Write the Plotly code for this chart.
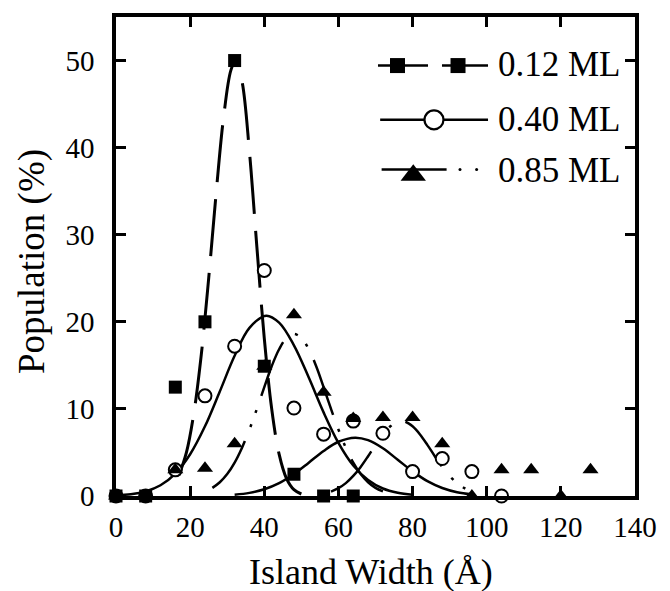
import plotly.graph_objects as go

# ---------------- data ----------------
x_ticks = [0, 20, 40, 60, 80, 100, 120, 140]
y_ticks = [0, 10, 20, 30, 40, 50]

# 0.12 ML (filled squares)
sq_x = [0, 8, 16, 24, 32, 40, 48, 56, 64]
sq_y = [0, 0, 12.5, 20.0, 50.0, 14.9, 2.5, 0, 0]

# 0.40 ML (open circles)
circ_x = [0, 8, 16, 24, 32, 40, 48, 56, 64, 72, 80, 88, 96, 104]
circ_y = [0, 0, 3.0, 11.5, 17.2, 25.9, 10.1, 7.1, 8.6, 7.2, 2.8, 4.3, 2.8, 0]

# 0.85 ML (filled triangles)
tri_x = [0, 8, 16, 24, 32, 40, 48, 56, 64, 72, 80, 88, 96, 104, 112, 120, 128]
tri_y = [0, 0, 3.0, 3.2, 6.0, 14.9, 20.8, 11.9, 8.9, 9.0, 9.0, 6.0, 0, 3.0, 3.0, 0, 3.0]

# fitted curves
fit012_x = [17, 19, 21, 23, 25, 27, 29, 31, 32.3, 34, 36, 38, 40, 42, 44, 46, 48, 50]
fit012_y = [2.4, 5.0, 9.5, 16.2, 25.0, 34.7, 43.4, 48.9, 50.0, 47.6, 39.5, 28.6, 18.1, 10.0, 4.8, 2.0, 0.73, 0.23]

fit040a_x = [0, 4, 8, 12, 16, 20, 24, 28, 32, 36, 40.5, 44, 48, 52, 56, 60, 64, 68, 72, 76, 80]
fit040a_y = [0.1, 0.2, 0.53, 1.23, 2.58, 4.8, 8.0, 12.0, 16.1, 19.3, 20.7, 19.9, 17.3, 13.6, 9.6, 6.1, 3.5, 1.84, 0.86, 0.37, 0.14]

fit040b_x = [32, 36, 40, 44, 48, 52, 56, 60, 64.5, 68, 72, 76, 80, 84, 88, 92, 96]
fit040b_y = [0.15, 0.36, 0.77, 1.47, 2.52, 3.83, 5.17, 6.23, 6.7, 6.41, 5.48, 4.16, 2.83, 1.7, 0.92, 0.44, 0.19]

fit085a_x = [26, 28, 30, 32, 34, 36, 38, 40, 42, 44, 46, 48, 50, 52, 54, 56, 58, 60, 62, 64, 66, 68, 70, 72]
fit085a_y = [0.93, 1.58, 2.52, 3.84, 5.55, 7.64, 10.0, 12.5, 14.9, 16.85, 18.15, 18.6, 18.15, 16.85, 14.9,
             12.5, 10.0, 7.64, 5.55, 3.84, 2.52, 1.58, 0.93, 0.53]

fit085b_x = [58, 60, 62, 64, 66, 68, 70, 72, 74, 76, 78, 80, 82, 84, 86, 88, 90, 92, 94, 96]
fit085b_y = [0.51, 0.9, 1.48, 2.3, 3.34, 4.57, 5.87, 7.07, 8.0, 8.53, 8.53, 8.0, 7.07, 5.87, 4.57, 3.34,
             2.3, 1.48, 0.9, 0.51]

labels = ["0.12 ML", "0.40 ML", "0.85 ML"]

# ---------------- styles ----------------
FONT = "Liberation Serif"
BLACK = "black"
DASH012 = "57px,17px"
DASH085 = "58px,15px,3px,12px,3px,15px"

fig = go.Figure()

def curve(x, y, dash, width):
    fig.add_trace(go.Scatter(x=x, y=y, mode="lines",
                             line=dict(color=BLACK, width=width, dash=dash,
                                       shape="spline", smoothing=1.0),
                             hoverinfo="skip", cliponaxis=True))

curve(fit040a_x, fit040a_y, "solid", 2.5)
curve(fit040b_x, fit040b_y, "solid", 2.5)
curve(fit085a_x, fit085a_y, DASH085, 2.5)
curve(fit085b_x, fit085b_y, DASH085, 2.5)
curve(fit012_x, fit012_y, DASH012, 3)

fig.add_trace(go.Scatter(x=circ_x, y=circ_y, mode="markers", cliponaxis=False,
                         marker=dict(symbol="circle", size=13, color="white",
                                     line=dict(color=BLACK, width=2))))
fig.add_trace(go.Scatter(x=tri_x, y=tri_y, mode="markers", cliponaxis=False,
                         marker=dict(symbol="triangle-up", size=14, color=BLACK,
                                     line=dict(width=0))))
fig.add_trace(go.Scatter(x=sq_x, y=sq_y, mode="markers", cliponaxis=False,
                         marker=dict(symbol="square", size=13, color=BLACK,
                                     line=dict(width=0))))

# ---------------- custom legend on an overlay axis (0..1 fractions of the plot box) ----------------
def lg_line(x0, x1, y, dash="solid"):
    fig.add_trace(go.Scatter(x=[x0, x1], y=[y, y], mode="lines", xaxis="x2", yaxis="y2",
                             line=dict(color=BLACK, width=2.5, dash=dash), cliponaxis=False,
                             hoverinfo="skip"))

def lg_marker(x, y, symbol, size, fill, lw):
    fig.add_trace(go.Scatter(x=[x], y=[y], mode="markers", xaxis="x2", yaxis="y2", cliponaxis=False,
                             marker=dict(symbol=symbol, size=size, color=fill,
                                         line=dict(color=BLACK, width=lw)), hoverinfo="skip"))

ROW = [0.8986, 0.7853, 0.6818]
lg_line(0.5048, 0.6012, ROW[0])
lg_line(0.6281, 0.7168, ROW[0])
lg_marker(0.5424, ROW[0], "square", 15, BLACK, 0)
lg_marker(0.6590, ROW[0], "square", 15, BLACK, 0)

lg_line(0.5090, 0.7168, ROW[1])
lg_marker(0.6127, ROW[1], "circle", 19, "white", 2.2)

lg_line(0.5118, 0.6370, ROW[2])
lg_marker(0.5728, ROW[2] - 0.012, "triangle-up", 22, BLACK, 0)
lg_marker(0.6628, ROW[2], "circle", 3, BLACK, 0)
lg_marker(0.6948, ROW[2], "circle", 3, BLACK, 0)

TXT_Y = [0.9010, 0.7870, 0.6790]
for lab, ty in zip(labels, TXT_Y):
    fig.add_annotation(x=0.7320, y=ty, xref="x2", yref="y2", text=lab, showarrow=False,
                       xanchor="left", yanchor="middle", font=dict(family=FONT, size=35, color=BLACK))

# axis titles
fig.add_annotation(x=0.491, y=-0.1594, xref="paper", yref="paper", text="Island Width (Å)",
                   showarrow=False, xanchor="center", yanchor="middle",
                   font=dict(family=FONT, size=36, color=BLACK))
fig.add_annotation(x=-0.1618, y=0.4886, xref="paper", yref="paper", text="Population (%)",
                   showarrow=False, textangle=-90, xanchor="center", yanchor="middle",
                   font=dict(family=FONT, size=37, color=BLACK))

axis_common = dict(showgrid=False, zeroline=False, ticks="inside", ticklen=10, tickwidth=3,
                   tickcolor=BLACK, showline=True, linewidth=3.5, linecolor=BLACK, mirror="ticks",
                   tickfont=dict(family=FONT, size=29, color=BLACK))

# the page body adds an 8px offset; size the figure so the plot box lands where the reference has it
fig.update_layout(
    width=662, height=583,
    margin=dict(l=108, r=35, t=5, b=95),
    plot_bgcolor="white", paper_bgcolor="white",
    showlegend=False,
    font=dict(family=FONT, color=BLACK),
    xaxis=dict(range=[0, 140], tickvals=x_ticks, ticklabelstandoff=2, **axis_common),
    yaxis=dict(range=[0, 55], tickvals=y_ticks, ticklabelstandoff=12, **axis_common),
    xaxis2=dict(overlaying="x", anchor="y2", range=[0, 1], visible=False, fixedrange=True),
    yaxis2=dict(overlaying="y", anchor="x2", range=[0, 1], visible=False, fixedrange=True),
)

fig.write_html("out.html")
